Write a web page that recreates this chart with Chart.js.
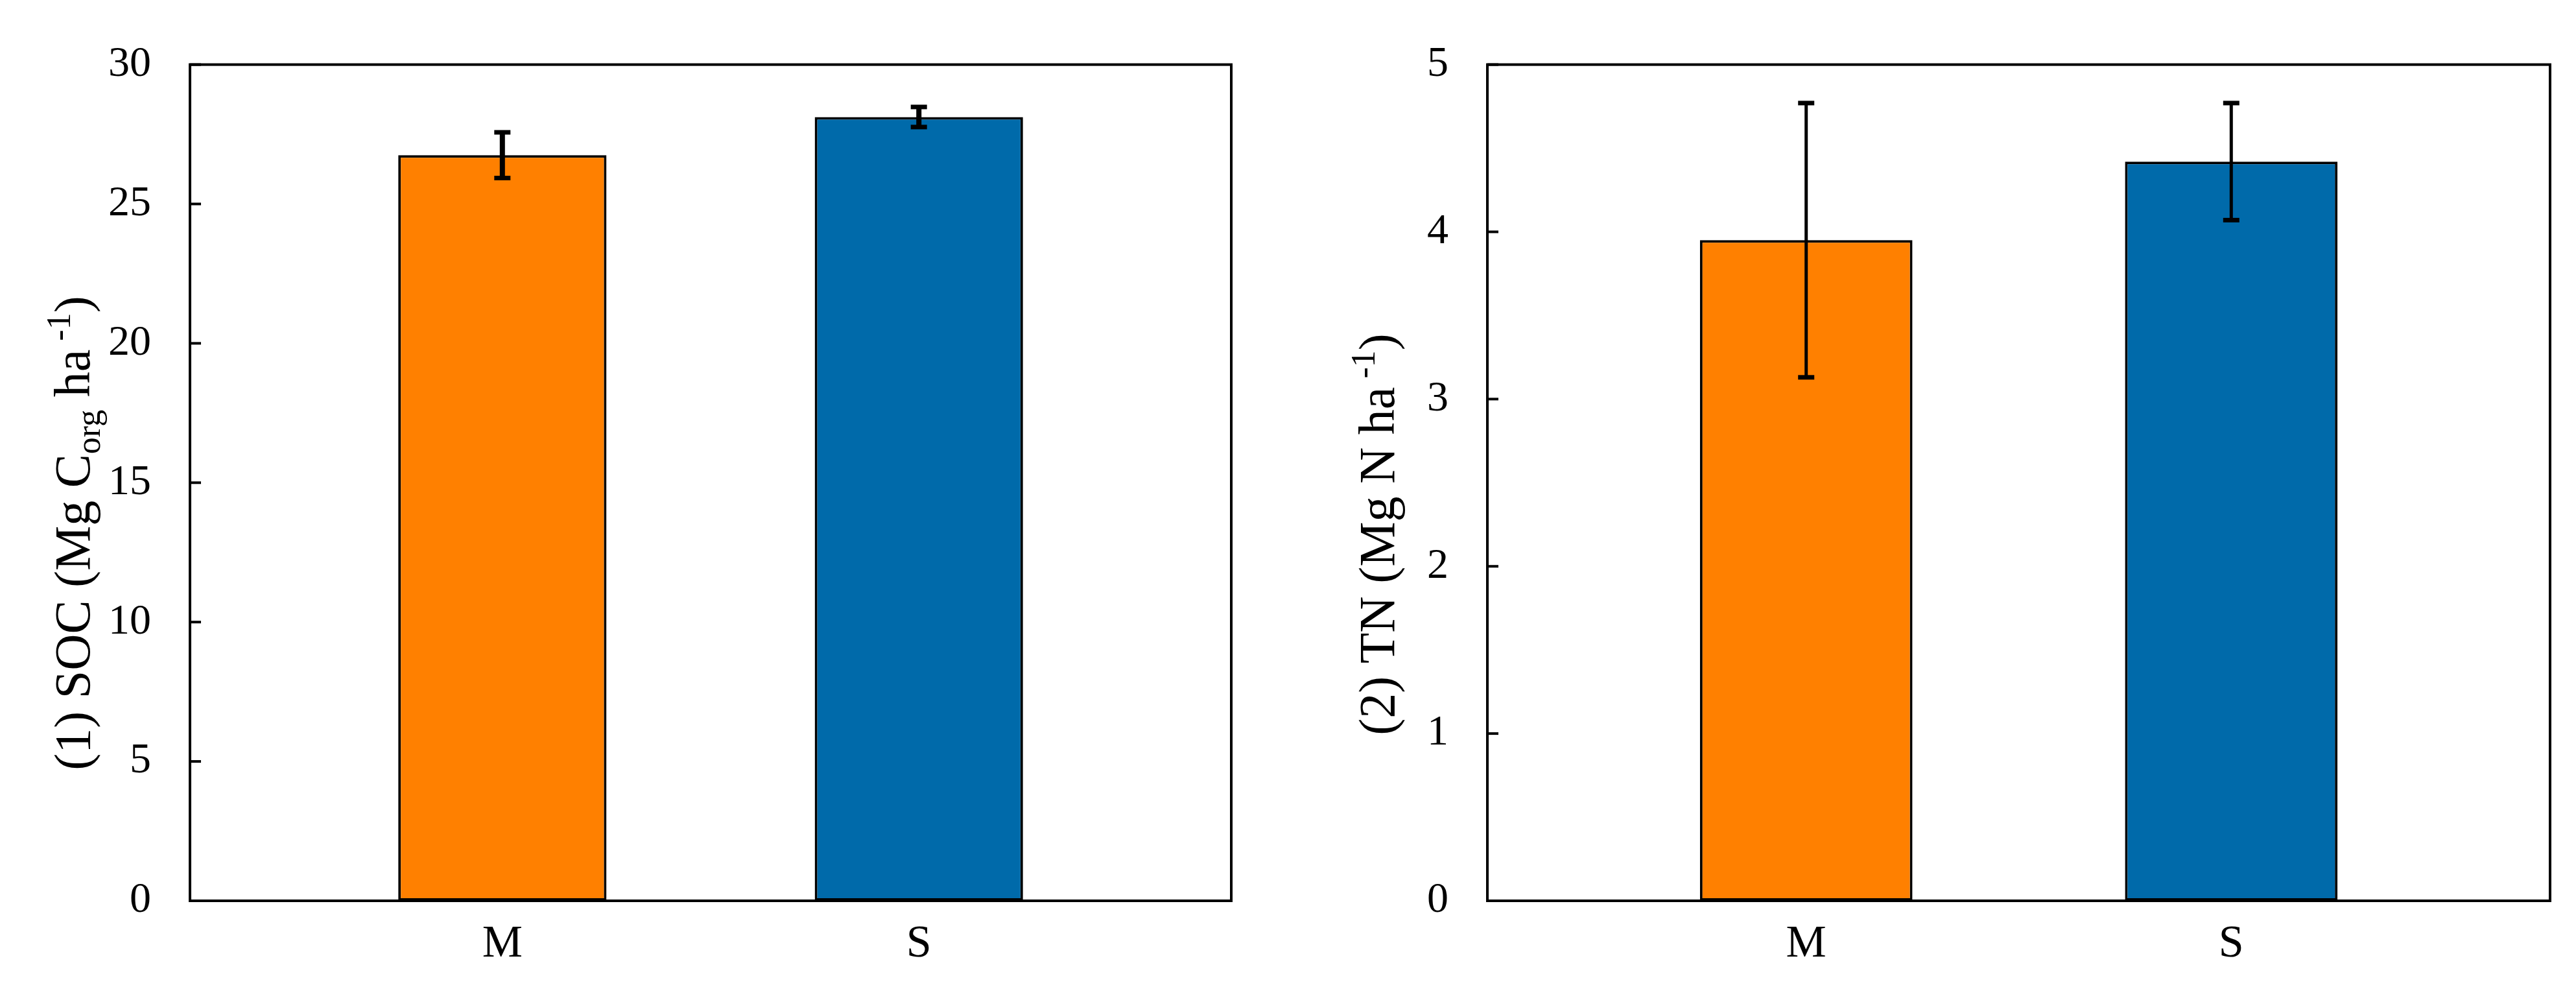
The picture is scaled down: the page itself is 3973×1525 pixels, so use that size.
<!DOCTYPE html>
<html>
<head>
<meta charset="utf-8">
<script src="https://cdn.jsdelivr.net/npm/chart.js@4.4.1/dist/chart.umd.min.js"></script>
<style>
  html, body { margin: 0; padding: 0; background: #fff; }
  #wrap { position: relative; width: 3973px; height: 1525px; }
  canvas { position: absolute; top: 0; }
</style>
</head>
<body>
<div id="wrap">
  <canvas id="socChart" width="1990" height="1525" style="left:0"></canvas>
  <canvas id="tnChart" width="1983" height="1525" style="left:1990px"></canvas>
</div>
<script>
// datos
const categories = ["M", "S"];
const barColors = ["#FF8000", "#006AAA"];

const socValues = [26.75, 28.12];
const socErrors = [0.82, 0.36];
const socTicks = [0, 5, 10, 15, 20, 25, 30];

const tnValues = [3.95, 4.42];
const tnErrors = [0.82, 0.35];
const tnTicks = [0, 1, 2, 3, 4, 5];

const FONT = '"Liberation Serif", "Times New Roman", serif';

// titulo del eje Y con subindices / superindices
function drawTitle(ctx, parts, cx, cy) {
  const size = 78, small = 52;
  ctx.save();
  ctx.translate(cx, cy);
  ctx.rotate(-Math.PI / 2);
  ctx.fillStyle = "#000";
  ctx.textBaseline = "alphabetic";
  let total = 0;
  parts.forEach((p) => {
    ctx.font = (p.shift ? small : size) + "px " + FONT;
    p.w = ctx.measureText(p.text).width;
    total += p.w;
  });
  let x = -total / 2;
  parts.forEach((p) => {
    ctx.font = (p.shift ? small : size) + "px " + FONT;
    ctx.fillText(p.text, x, 26 + (p.shift || 0));
    x += p.w;
  });
  ctx.restore();
}

function framePlugin(opts) {
  return {
    id: "frame",
    afterDatasetsDraw(chart) {
      const { ctx, chartArea: a, scales } = chart;
      const meta = chart.getDatasetMeta(0);
      ctx.save();
      ctx.strokeStyle = "#000";
      ctx.lineCap = "butt";
      // barras de error
      meta.data.forEach((bar, i) => {
        const yTop = scales.y.getPixelForValue(opts.values[i] + opts.errors[i]);
        const yBot = scales.y.getPixelForValue(opts.values[i] - opts.errors[i]);
        ctx.lineWidth = opts.stem;
        ctx.beginPath();
        ctx.moveTo(bar.x, yTop);
        ctx.lineTo(bar.x, yBot);
        ctx.stroke();
        ctx.lineWidth = 7;
        [yTop, yBot].forEach((y) => {
          ctx.beginPath();
          ctx.moveTo(bar.x - 12.5, y);
          ctx.lineTo(bar.x + 12.5, y);
          ctx.stroke();
        });
      });
      // marcas interiores del eje Y
      ctx.lineWidth = 4;
      scales.y.ticks.forEach((t) => {
        const y = scales.y.getPixelForValue(t.value);
        ctx.beginPath();
        ctx.moveTo(a.left, y);
        ctx.lineTo(a.left + 17, y);
        ctx.stroke();
      });
      // marco
      ctx.lineWidth = 4;
      ctx.strokeRect(a.left, a.top, a.right - a.left, a.bottom - a.top);
      ctx.restore();
    },
    afterDraw(chart) {
      drawTitle(chart.ctx, opts.title, opts.titleX, opts.titleY);
    },
  };
}

function makeChart(id, values, errors, ticks, pad, extra) {
  const ctx = document.getElementById(id).getContext("2d");
  return new Chart(ctx, {
    type: "bar",
    data: {
      datasets: [
        {
          data: values.map((v, i) => ({ x: i, y: v })),
          backgroundColor: barColors,
          borderColor: "#000",
          borderWidth: 4,
          borderSkipped: false,
          barPercentage: 0.5,
          categoryPercentage: 1,
        },
      ],
    },
    options: {
      responsive: false,
      animation: false,
      layout: { padding: pad },
      plugins: { legend: { display: false }, tooltip: { enabled: false } },
      scales: {
        x: {
          type: "linear",
          offset: false,
          min: -0.75,
          max: 1.75,
          afterBuildTicks: (s) => { s.ticks = categories.map((c, i) => ({ value: i })); },
          afterFit: (s) => { s.height = 100; },
          grid: { display: false, drawTicks: false, offset: false },
          border: { display: false },
          ticks: {
            autoSkip: false,
            maxRotation: 0,
            padding: 26,
            color: "#000",
            font: { family: FONT, size: 70 },
            callback: (v, i) => categories[i],
          },
        },
        y: {
          min: ticks[0],
          max: ticks[ticks.length - 1],
          afterBuildTicks: (s) => { s.ticks = ticks.map((v) => ({ value: v })); },
          afterFit: (s) => { s.width = 200; },
          grid: { display: false, drawTicks: false },
          border: { display: false },
          ticks: {
            padding: 60,
            color: "#000",
            font: { family: FONT, size: 66 },
          },
        },
      },
    },
    plugins: [framePlugin(Object.assign({ values, errors }, extra))],
  });
}

makeChart("socChart", socValues, socErrors, socTicks,
  { left: 93, right: 91, top: 78, bottom: 36 },
  {
    stem: 8,
    titleX: 112,
    titleY: 822,
    title: [
      { text: "(1) SOC (Mg C" },
      { text: "org", shift: 16 },
      { text: " ha" },
      { text: " -1", shift: -30 },
      { text: ")" },
    ],
  });

makeChart("tnChart", tnValues, tnErrors, tnTicks,
  { left: 104, right: 40, top: 78, bottom: 36 },
  {
    stem: 5,
    titleX: 2124 - 1990,
    titleY: 824,
    title: [
      { text: "(2) TN (Mg N ha" },
      { text: " -1", shift: -30 },
      { text: ")" },
    ],
  });
</script>
</body>
</html>
